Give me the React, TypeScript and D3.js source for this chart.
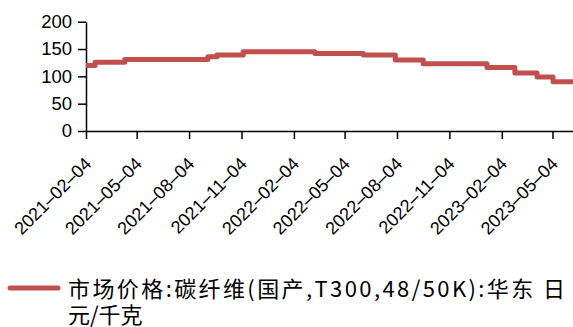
import React, { useEffect, useRef } from "react";
import * as d3 from "d3";

// Step-change dates (price holds until the next date) and prices, 元/千克
const changeDates = [
  "2021-02-04", "2021-02-20", "2021-04-13", "2021-09-06", "2021-09-22",
  "2021-11-07", "2022-03-13", "2022-06-06", "2022-08-01", "2022-09-19",
  "2023-01-09", "2023-02-27", "2023-04-07", "2023-05-05", "2023-06-09",
];
const prices = [120, 126, 131, 136, 139, 145, 142, 139, 130, 123, 116, 106, 99, 90, 90];

const tickDates = [
  "2021-02-04", "2021-05-04", "2021-08-04", "2021-11-04", "2022-02-04",
  "2022-05-04", "2022-08-04", "2022-11-04", "2023-02-04", "2023-05-04",
];
const yTicks = [0, 50, 100, 150, 200];

const legendLine1 = "市场价格:碳纤维(国产,T300,48/50K):华东  日";
const legendLine2 = "元/千克";

const W = 573;
const H = 327;
const LINE_COLOR = "#C0504D";

export default function App() {
  const ref = useRef<SVGSVGElement | null>(null);

  useEffect(() => {
    const svg = d3.select(ref.current);
    svg.selectAll("*").remove();

    const parse = d3.utcParse("%Y-%m-%d");
    const x = d3
      .scaleUtc()
      .domain([parse(changeDates[0])!, parse(changeDates[changeDates.length - 1])!])
      .range([86, 573]);
    const y = d3.scaleLinear().domain([0, 200]).range([131, 21.7]);

    const data = changeDates.map((d, i) => ({ date: parse(d)!, value: prices[i] }));

    const axisFont = "'Liberation Sans', Arial, sans-serif";

    // y axis
    const gy = svg.append("g").attr("transform", `translate(86,0)`);
    gy.call(d3.axisLeft(y).tickValues(yTicks).tickSize(8).tickPadding(6).tickSizeOuter(0));
    gy.select(".domain").attr("stroke", "#000").attr("stroke-width", 1.5);
    gy.selectAll(".tick line").attr("stroke", "#000").attr("stroke-width", 1.5);
    gy.selectAll(".tick text")
      .attr("font-family", axisFont)
      .attr("font-size", 18.5)
      .attr("fill", "#000");

    // x axis, date labels joined with dashes and turned 45°
    const fmt = d3.utcFormat("%Y–%m–%d");
    const gx = svg.append("g").attr("transform", `translate(0,131)`);
    gx.call(
      d3
        .axisBottom(x)
        .tickValues(tickDates.map((d) => parse(d)!))
        .tickSize(8)
        .tickSizeOuter(0)
        .tickFormat((d) => fmt(d as Date))
    );
    gx.select(".domain").attr("stroke", "#000").attr("stroke-width", 1.5);
    gx.selectAll(".tick line").attr("stroke", "#000").attr("stroke-width", 1.5);
    gx.selectAll(".tick text")
      .attr("font-family", axisFont)
      .attr("font-size", 18)
      .attr("fill", "#000")
      .attr("text-anchor", "end")
      .attr("dy", null)
      .attr("y", 0)
      .attr("transform", "translate(6,34) rotate(-45)");

    // price line
    const line = d3
      .line<{ date: Date; value: number }>()
      .x((d) => x(d.date))
      .y((d) => y(d.value))
      .curve(d3.curveStepAfter);

    svg
      .append("path")
      .datum(data)
      .attr("d", line)
      .attr("fill", "none")
      .attr("stroke", LINE_COLOR)
      .attr("stroke-width", 5)
      .attr("stroke-linejoin", "round");

    // legend
    svg
      .append("line")
      .attr("x1", 10)
      .attr("x2", 58)
      .attr("y1", 288)
      .attr("y2", 288)
      .attr("stroke", LINE_COLOR)
      .attr("stroke-width", 5)
      .attr("stroke-linecap", "round");

    const legendFont = "'Noto Sans CJK SC', sans-serif";
    svg
      .append("text")
      .attr("x", 68)
      .attr("y", 297)
      .attr("font-family", legendFont)
      .attr("font-size", 22)
      .attr("fill", "#000")
      .attr("textLength", 497)
      .attr("lengthAdjust", "spacing")
      .text(legendLine1);
    svg
      .append("text")
      .attr("x", 68)
      .attr("y", 323)
      .attr("font-family", legendFont)
      .attr("font-size", 22)
      .attr("fill", "#000")
      .text(legendLine2);
  }, []);

  return (
    <svg
      ref={ref}
      width={W}
      height={H}
      style={{ position: "absolute", left: 0, top: 0, background: "#fff" }}
    />
  );
}
